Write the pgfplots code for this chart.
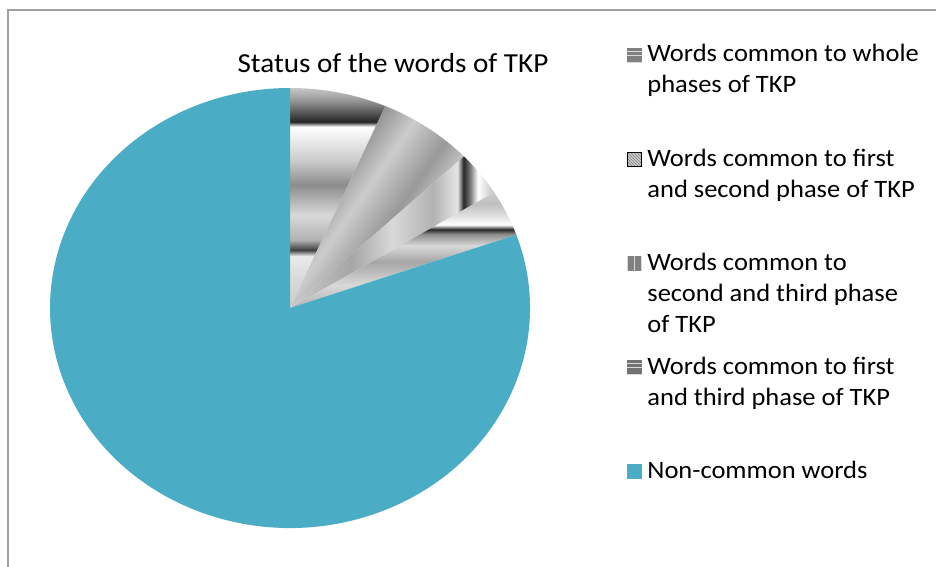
\documentclass[border=0pt]{standalone}
\usepackage{fontspec}
\setmainfont{Carlito}[FakeStretch=1.06]
\usepackage{pgfplots}
\pgfplotsset{compat=1.18}
\usepackage{pgfplotstable}
\usetikzlibrary{patterns}
\definecolor{pieblue}{HTML}{4BACC6}
\definecolor{framegray}{HTML}{A0A0A0}

% banded grey shadings standing in for the rendered Excel patterns
\pgfdeclareverticalshading{bandA}{100bp}{color(0bp)=(black!20); color(25bp)=(black!20); color(31.4bp)=(black!15); color(36.8bp)=(black!8); color(38.2bp)=(black!75); color(40.5bp)=(black!30); color(46.1bp)=(black!15); color(49.6bp)=(black!30); color(53bp)=(black!45); color(58.6bp)=(black!20); color(66.2bp)=(white); color(67.3bp)=(black!85); color(72.3bp)=(black!40); color(75bp)=(black!22); color(100bp)=(black!22)}
\pgfdeclarehorizontalshading{bandB}{100bp}{color(0bp)=(black!25); color(25bp)=(black!25); color(35bp)=(black!15); color(45bp)=(black!40); color(55bp)=(black!20); color(65bp)=(black!45); color(69bp)=(black!85); color(71bp)=(white); color(75bp)=(black!35); color(100bp)=(black!35)}
\pgfdeclarehorizontalshading{bandC}{100bp}{color(0bp)=(black!20); color(25bp)=(black!20); color(40bp)=(black!35); color(50bp)=(black!15); color(60bp)=(black!30); color(66bp)=(black!10); color(67.5bp)=(black!85); color(69bp)=(black!55); color(71bp)=(white); color(75bp)=(black!25); color(100bp)=(black!25)}
\pgfdeclareverticalshading{bandD}{100bp}{color(0bp)=(black!30); color(25bp)=(black!30); color(35bp)=(black!15); color(45bp)=(black!35); color(52bp)=(black!15); color(57bp)=(black!45); color(59bp)=(black!85); color(61bp)=(white); color(66bp)=(black!15); color(70bp)=(black!25); color(75bp)=(black!20); color(100bp)=(black!20)}

\pgfplotstableread{
label share
whole 6.5
firstsecond 6.4
secondthird 3.3
firstthird 3.4
noncommon 80.4
}\piedata
\pgfplotstablegetelem{0}{share}\of\piedata\let\sA\pgfplotsretval
\pgfplotstablegetelem{1}{share}\of\piedata\let\sB\pgfplotsretval
\pgfplotstablegetelem{2}{share}\of\piedata\let\sC\pgfplotsretval
\pgfplotstablegetelem{3}{share}\of\piedata\let\sD\pgfplotsretval
\pgfplotstablegetelem{4}{share}\of\piedata\let\sE\pgfplotsretval
\pgfmathsetmacro\aA{90}
\pgfmathsetmacro\aB{\aA-3.6*\sA}
\pgfmathsetmacro\aC{\aB-3.6*\sB}
\pgfmathsetmacro\aD{\aC-3.6*\sC}
\pgfmathsetmacro\aE{\aD-3.6*\sD}
\pgfmathsetmacro\aF{\aE-3.6*\sE}

\newcommand\legtext[1]{\parbox[t]{300pt}{\fontsize{25}{31}\selectfont\raggedright #1}\rule{0pt}{20pt}}

% one legend entry per (invisible) axis, so each entry sits at its own height
\newcommand\legaxis[3]{%
\begin{axis}[at={(627pt,#1)}, anchor=south west, width=1pt, height=1pt,
  scale only axis, hide axis, xmin=0, xmax=1, ymin=0, ymax=1,
  legend cell align=left,
  legend style={draw=none, fill=none, at={(0,0)}, anchor=north west,
    inner sep=0pt, outer sep=0pt, row sep=0pt, column sep=6pt,
    nodes={inner sep=0pt, outer sep=0pt, anchor=base west}}]
\addlegendimage{legend image code/.code={#2}}
\addlegendentry{\legtext{#3}}
\end{axis}}

\begin{document}
\begin{tikzpicture}[x=1pt,y=1pt]
\draw[framegray, line width=2pt] (8,-2) -- (8,555.5) -- (940,555.5);
\begin{axis}[
  at={(290pt,258pt)}, anchor=center,
  width=480pt, height=440pt, scale only axis,
  xmin=-1, xmax=1, ymin=-1, ymax=1,
  hide axis, clip=false,
  title={Status of the words of TKP},
  title style={at={(0.7146,1.0227)}, anchor=base, inner sep=0pt, font=\fontsize{27.5}{33}\selectfont},
]
\addplot[draw=none, shade, shading=bandA]
  coordinates {(0,0)} -- ++(\aA:240pt and 220pt)
  arc[start angle=\aA, end angle=\aB, x radius=240pt, y radius=220pt] -- cycle;
\addplot[draw=none, shade, shading=bandB, shading angle=145]
  coordinates {(0,0)} -- ++(\aB:240pt and 220pt)
  arc[start angle=\aB, end angle=\aC, x radius=240pt, y radius=220pt] -- cycle;
\addplot[draw=none, shade, shading=bandC]
  coordinates {(0,0)} -- ++(\aC:240pt and 220pt)
  arc[start angle=\aC, end angle=\aD, x radius=240pt, y radius=220pt] -- cycle;
\addplot[draw=none, shade, shading=bandD]
  coordinates {(0,0)} -- ++(\aD:240pt and 220pt)
  arc[start angle=\aD, end angle=\aE, x radius=240pt, y radius=220pt] -- cycle;
\addplot[draw=none, fill=pieblue]
  coordinates {(0,0)} -- ++(\aE:240pt and 220pt)
  arc[start angle=\aE, end angle=\aF, x radius=240pt, y radius=220pt] -- cycle;
\end{axis}

\legaxis{524pt}{%
    \fill[black!15] (0pt,0pt) rectangle (14pt,14pt);
    \fill[black!50] (0pt,0.6pt) rectangle (14pt,2.6pt);
    \fill[black!50] (0pt,4.2pt) rectangle (14pt,6.2pt);
    \fill[black!50] (0pt,7.8pt) rectangle (14pt,9.8pt);
    \fill[black!50] (0pt,11.4pt) rectangle (14pt,13.4pt);}%
  {Words common to whole\\phases of TKP}
\legaxis{420pt}{%
    \fill[black!20] (0pt,0pt) rectangle (14pt,14pt);
    \fill[pattern=north west lines, pattern color=black!50] (0pt,0pt) rectangle (14pt,14pt);}%
  {Words common to first\\and second phase of TKP}
\legaxis{316pt}{%
    \fill[black!15] (0pt,0pt) rectangle (14pt,14pt);
    \fill[black!50] (0.6pt,0pt) rectangle (2.6pt,14pt);
    \fill[black!50] (4.2pt,0pt) rectangle (6.2pt,14pt);
    \fill[black!50] (7.8pt,0pt) rectangle (9.8pt,14pt);
    \fill[black!50] (11.4pt,0pt) rectangle (13.4pt,14pt);}%
  {Words common to\\second and third phase\\of TKP}
\legaxis{212pt}{%
    \fill[black!15] (0pt,0pt) rectangle (14pt,14pt);
    \fill[black!55] (0pt,0.6pt) rectangle (14pt,2.6pt);
    \fill[black!55] (0pt,4.2pt) rectangle (14pt,6.2pt);
    \fill[black!55] (0pt,7.8pt) rectangle (14pt,9.8pt);
    \fill[black!55] (0pt,11.4pt) rectangle (14pt,13.4pt);}%
  {Words common to first\\and third phase of TKP}
\legaxis{108pt}{%
    \fill[pieblue] (0pt,0pt) rectangle (14pt,14pt);}%
  {Non-common words}

\pgfresetboundingbox
\path[use as bounding box] (0,0) rectangle (936,566);
\end{tikzpicture}
\end{document}
